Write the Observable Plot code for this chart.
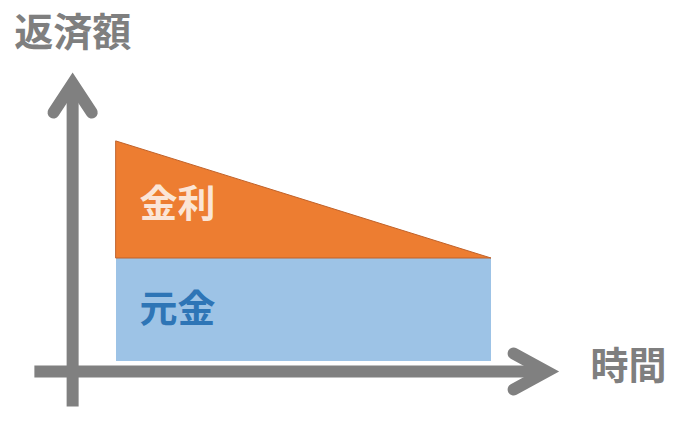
<!DOCTYPE html>
<html>
<head>
<meta charset="utf-8">
<script src="https://cdn.jsdelivr.net/npm/d3@7"></script>
<script src="https://cdn.jsdelivr.net/npm/@observablehq/plot@0.6"></script>
<style>
  html, body { margin: 0; padding: 0; background: #ffffff; }
  #chart svg { display: block; }
</style>
</head>
<body>
<div id="chart"></div>
<script>
// 元金均等返済のイメージ
const periods   = [0, 10];        // 返済期間（開始, 終了）
const principal = [100, 100];     // 元金（毎回一定）
const interest  = [113.6, 0];     // 金利（時間とともに減少）
const regionLabels = ["元金", "金利"];
const axisTitles   = ["返済額", "時間"];

// 軸の矢印（データ単位）
const yShaft = [[-1.17, -43.7], [-1.17, 270]];
const yHead  = [[-1.68, 241.7], [-1.17, 270], [-0.66, 241.7]];
const xShaft = [[-2.19, -9.7], [11.47, -9.7]];
const xHead  = [[10.59, 7.8], [11.47, -9.7], [10.59, -27.2]];

const table = periods.map((t, i) => ({t, p: principal[i], r: interest[i]}));

const font = "'Noto Sans CJK JP', 'Noto Sans CJK SC', sans-serif";
const gray = "#7f7f7f";

const chart = Plot.plot({
  width: 690,
  height: 421,
  marginTop: 0, marginRight: 0, marginBottom: 0, marginLeft: 0,
  x: {domain: [0, 10], range: [116, 491], axis: null},
  y: {domain: [0, 100], range: [361, 258], axis: null},
  style: {fontFamily: font, background: "#ffffff", overflow: "visible"},
  marks: [
    // 元金
    Plot.areaY(table, {x: "t", y1: 0, y2: "p", fill: "#9dc3e6", curve: "linear"}),
    // 金利
    Plot.areaY(table, {x: "t", y1: "p", y2: d => d.p + d.r, fill: "#ed7d31",
      stroke: "#c0622a", strokeWidth: 1, curve: "linear"}),
    // 軸
    Plot.line(yShaft, {x: d => d[0], y: d => d[1], stroke: "#808080", strokeWidth: 12, strokeLinecap: "butt"}),
    Plot.line(yHead, {x: d => d[0], y: d => d[1], stroke: "#808080", strokeWidth: 12,
      strokeLinecap: "round", strokeLinejoin: "miter", strokeMiterlimit: 6}),
    Plot.line(xShaft, {x: d => d[0], y: d => d[1], stroke: "#808080", strokeWidth: 12, strokeLinecap: "butt"}),
    Plot.line(xHead, {x: d => d[0], y: d => d[1], stroke: "#808080", strokeWidth: 12,
      strokeLinecap: "round", strokeLinejoin: "miter", strokeMiterlimit: 6}),
    // 領域ラベル
    Plot.text([regionLabels[0]], {x: 0.61, y: principal[0] / 2, text: d => d, textAnchor: "start",
      fill: "#2e75b6", fontSize: 38, fontWeight: "bold"}),
    Plot.text([regionLabels[1]], {x: 0.61, y: 152, text: d => d, textAnchor: "start",
      fill: "#fbe5d6", fontSize: 38, fontWeight: "bold"}),
    // 軸タイトル
    Plot.text([axisTitles[0]], {x: -1.17, y: 318, text: d => d, textAnchor: "middle",
      fill: gray, fontSize: 39, fontWeight: "bold"}),
    Plot.text([axisTitles[1]], {x: 12.64, y: -5.3, text: d => d, textAnchor: "start",
      fill: gray, fontSize: 38, fontWeight: "bold"})
  ]
});
document.getElementById("chart").appendChild(chart);
</script>
</body>
</html>
